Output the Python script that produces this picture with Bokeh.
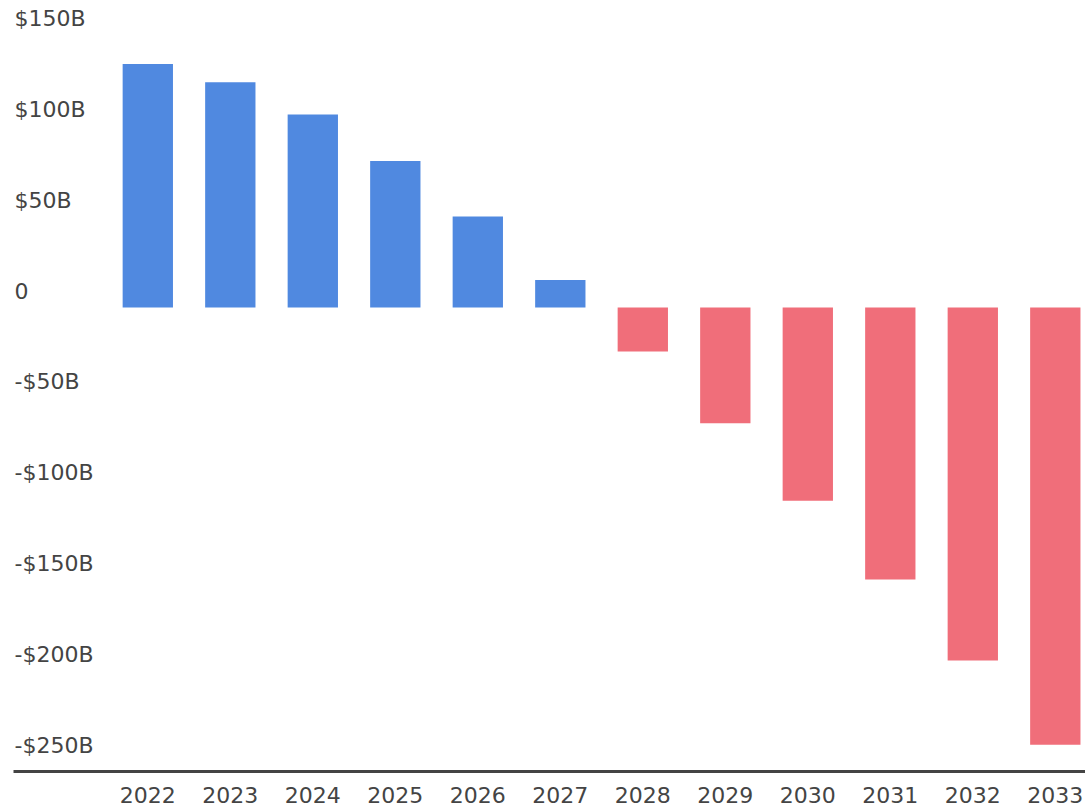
from bokeh.plotting import figure
from bokeh.models import ColumnDataSource, Range1d, FixedTicker, Label
from bokeh.embed import file_html
from bokeh.resources import INLINE

years = ["2022", "2023", "2024", "2025", "2026", "2027",
         "2028", "2029", "2030", "2031", "2032", "2033"]
balance_billions = [134.1, 124.0, 106.2, 80.7, 50.1, 15.2,
                    -24.2, -63.7, -106.4, -149.7, -194.3, -240.7]
y_tick_values = [150, 100, 50, 0, -50, -100, -150, -200, -250]
y_tick_labels = ["$150B", "$100B", "$50B", "0", "-$50B", "-$100B",
                 "-$150B", "-$200B", "-$250B"]

BLUE = "#5089E0"
RED = "#F06E7A"
TEXT = "#444444"
FONT = "DejaVu Sans"

idx = list(range(len(years)))
colors = [BLUE if v >= 0 else RED for v in balance_billions]
src = ColumnDataSource(dict(x=idx, top=balance_billions, color=colors))

p = figure(width=1085, height=806, output_backend="svg", toolbar_location=None,
           x_range=Range1d(-1.628, 11.366), y_range=Range1d(-255.4, 169.0),
           min_border_left=13, min_border_right=0, min_border_top=0,
           min_border_bottom=35)
p.outline_line_color = None
p.grid.visible = False
p.yaxis.visible = False
p.background_fill_color = "white"
p.border_fill_color = "white"

p.vbar(x="x", top="top", bottom=0, width=0.61, fill_color="color",
       line_color=None, source=src)

ax = p.xaxis[0]
ax.ticker = FixedTicker(ticks=idx)
ax.major_label_overrides = {i: y for i, y in zip(idx, years)}
ax.axis_line_color = TEXT
ax.axis_line_width = 3
ax.major_tick_line_color = None
ax.minor_tick_line_color = None
ax.major_tick_out = 0
ax.major_tick_in = 0
ax.major_label_standoff = 15
ax.major_label_text_font = FONT
ax.major_label_text_font_size = "22px"
ax.major_label_text_color = TEXT

for v, t in zip(y_tick_values, y_tick_labels):
    p.add_layout(Label(x=1, x_units="screen", y=v, y_units="data",
                       y_offset=16.5, text=t, text_align="left",
                       text_baseline="middle", text_font=FONT,
                       text_font_size="22px", text_color=TEXT))

open("out.html", "w").write(file_html(p, INLINE))
